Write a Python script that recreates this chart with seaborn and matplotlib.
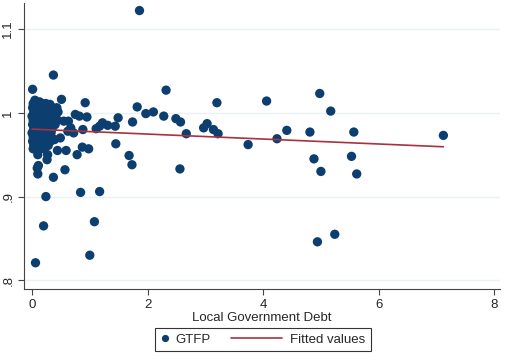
import numpy as np
import pandas as pd
import seaborn as sns
import matplotlib.pyplot as plt
from matplotlib.lines import Line2D
from matplotlib.legend_handler import HandlerLine2D

# points outside the dense cluster
debt_outer = [1.86, 0.37, 0.01, 0.51, 0.92, 2.32, 1.82, 1.97, 2.10, 2.28,
              1.49, 1.74, 1.44, 1.45, 1.68, 1.73, 0.75, 0.82, 0.95, 0.63,
              0.67, 0.88, 1.17, 1.11, 1.22, 1.31, 0.49, 0.39, 0.44, 0.59,
              0.78, 0.87, 0.98, 0.57, 0.37, 0.10, 0.26, 0.27, 0.11, 0.09,
              0.10, 0.84, 1.17, 0.24, 1.08, 0.20, 1.00, 0.06, 2.56, 2.67,
              2.49, 2.57, 2.97, 3.03, 3.14, 3.22, 3.20, 4.06, 3.74, 4.24,
              4.41, 4.81, 4.98, 5.17, 4.88, 5.00, 5.57, 5.53, 5.62, 5.24,
              4.94, 7.12, 0.55, 0.62, 0.72, 0.05, 0.13, 0.31]
gtfp_outer = [1.122, 1.045, 1.028, 1.016, 1.012, 1.027, 1.007, 0.999, 1.001, 0.996,
              0.994, 0.989, 0.984, 0.963, 0.949, 0.938, 0.998, 0.996, 0.995, 0.990,
              0.982, 0.980, 0.984, 0.981, 0.988, 0.985, 0.970, 0.968, 0.955, 0.955,
              0.950, 0.959, 0.957, 0.932, 0.923, 0.950, 0.944, 0.950, 0.937, 0.934,
              0.927, 0.905, 0.906, 0.900, 0.870, 0.865, 0.830, 0.821, 0.933, 0.975,
              0.993, 0.989, 0.982, 0.987, 0.980, 0.975, 1.012, 1.014, 0.962, 0.969,
              0.979, 0.977, 1.023, 1.002, 0.945, 0.930, 0.977, 0.948, 0.927, 0.855,
              0.846, 0.973, 0.990, 0.978, 0.976, 1.015, 1.013, 1.010]

# dense cluster near zero debt, row by row
cluster_rows = {
    1.011: [0.02, 0.10, 0.18, 0.24],
    1.006: [0.01, 0.06, 0.13, 0.21, 0.29, 0.36, 0.43],
    1.001: [0.03, 0.09, 0.16, 0.23, 0.31, 0.38, 0.45],
    0.996: [0.00, 0.07, 0.14, 0.20, 0.27, 0.34, 0.41],
    0.991: [0.02, 0.10, 0.17, 0.24, 0.30, 0.37, 0.44],
    0.986: [0.01, 0.06, 0.12, 0.19, 0.26, 0.33, 0.40],
    0.981: [0.03, 0.09, 0.15, 0.22, 0.29, 0.35],
    0.976: [0.00, 0.07, 0.13, 0.20, 0.27, 0.33],
    0.971: [0.02, 0.09, 0.16, 0.23, 0.30],
    0.966: [0.01, 0.06, 0.12, 0.19, 0.26, 0.32],
    0.961: [0.03, 0.09, 0.15, 0.22, 0.28],
    0.957: [0.02, 0.08, 0.14, 0.21],
}

# fitted line
fit_intercept = 0.9805
fit_slope = -0.00296

x_ticks = [0, 2, 4, 6, 8]
y_ticks = [0.8, 0.9, 1.0, 1.1]
y_tick_labels = ['.8', '.9', '1', '1.1']

debt = list(debt_outer)
gtfp = list(gtfp_outer)
for yv, xs in cluster_rows.items():
    debt += xs
    gtfp += [yv] * len(xs)

df = pd.DataFrame({'debt': debt, 'gtfp': gtfp})
df['fitted'] = fit_intercept + fit_slope * df['debt']
df = df.sort_values('debt')

navy = '#0c3f70'
maroon = '#a8323f'


class LongLineHandler(HandlerLine2D):
    # draws the line sample reaching back to the left of the (short) handle box
    def create_artists(self, legend, orig_handle, xdescent, ydescent,
                       width, height, fontsize, trans):
        y = (height - ydescent) / 2.0
        line = Line2D([-xdescent - 3.25 * fontsize, width - xdescent - 0.2 * fontsize],
                      [y, y])
        self.update_prop(line, orig_handle, legend)
        line.set_transform(trans)
        return [line]


sns.set_style('white')
plt.rcParams['font.family'] = ['Liberation Sans', 'DejaVu Sans']

fig = plt.figure(figsize=(5.05, 3.6), dpi=100)
ax = fig.add_axes([24 / 505, 1 - 289 / 360, 476 / 505, 286 / 360])

for yt in y_ticks:
    ax.axhline(yt, color='#eaf2f3', lw=1, zorder=0)

sns.scatterplot(data=df, x='debt', y='gtfp', ax=ax, color=navy, s=45,
                edgecolor='none', zorder=2)
sns.lineplot(data=df, x='debt', y='fitted', ax=ax, color=maroon, lw=1.2,
             zorder=3)

ax.set_xlim(-0.139, 8.1)
ax.set_ylim(0.7897, 1.131)
ax.set_xticks(x_ticks)
ax.set_xticklabels([str(t) for t in x_ticks], fontsize=9.5)
ax.set_yticks(y_ticks)
ax.set_yticklabels(y_tick_labels, fontsize=9.5, rotation=90, va='center')
ax.tick_params(axis='both', direction='out', length=4, width=0.8,
               color='#444444', bottom=True, left=True, pad=3)
ax.set_xlabel('Local Government Debt', fontsize=9.5, labelpad=1)
ax.set_ylabel('')

for side in ['top', 'right']:
    ax.spines[side].set_visible(False)
for side in ['left', 'bottom']:
    ax.spines[side].set_color('#444444')
    ax.spines[side].set_linewidth(0.8)

h_pts = Line2D([], [], marker='o', color=navy, linestyle='none', markersize=4.2)
h_fit = Line2D([], [], color=maroon, lw=1.2)
leg = fig.legend([h_pts, h_fit], ['GTFP', 'Fitted values'], loc='center',
                 bbox_to_anchor=(0.52, 0.057), ncol=2, fontsize=9.5,
                 frameon=True, fancybox=False, edgecolor='black',
                 handlelength=0.8, handletextpad=0.4, columnspacing=4.8,
                 borderpad=0.4, handler_map={h_fit: LongLineHandler()})
leg.get_frame().set_linewidth(0.8)

fig.savefig('out.png', dpi=100)
